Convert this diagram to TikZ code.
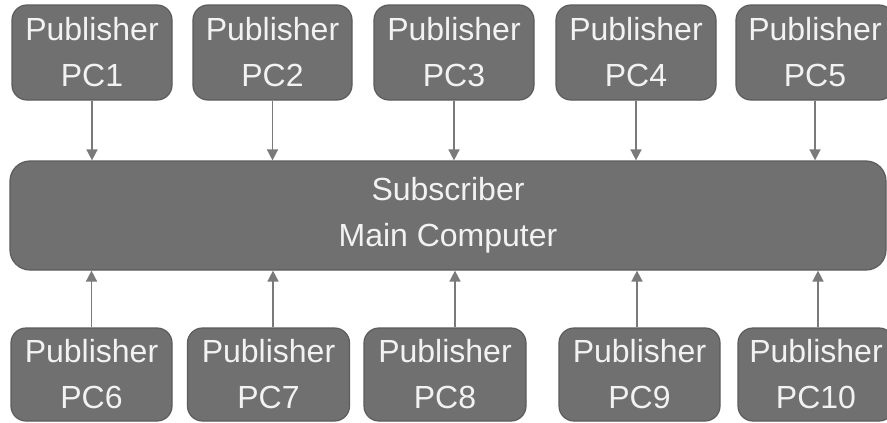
\documentclass[tikz,border=0pt]{standalone}
\usepackage{fontspec}
\setmainfont{Liberation Sans}
\usetikzlibrary{arrows.meta}
\definecolor{boxfill}{HTML}{707070}
\definecolor{boxline}{HTML}{5C5C5C}
\definecolor{arrowcol}{HTML}{7A7A7A}
\definecolor{txtcol}{HTML}{F2F2F2}
\begin{document}
\begin{tikzpicture}[x=1pt,y=-1pt,
  pcbox/.style={draw=boxline,line width=1.2pt,fill=boxfill,rounded corners=15pt,
    minimum width=160pt,minimum height=95pt,inner sep=0pt,align=center,
    text=txtcol,font=\fontsize{32}{46}\selectfont},
  mainbox/.style={pcbox,rounded corners=20pt,minimum width=876pt,minimum height=109pt},
  conn/.style={draw=arrowcol,line width=1.6pt,-{Triangle[length=11pt,width=11pt]}}]
\clip (0,0) rectangle (887,423);
\fill[white] (0,0) rectangle (887,423);
\node[mainbox] (main) at (448,215.5) {Subscriber\\Main Computer};
\node[pcbox] (p1) at (92,52.5) {Publisher\\PC1};
\node[pcbox,minimum width=159pt] (p2) at (272.5,52.5) {Publisher\\PC2};
\node[pcbox] (p3) at (454,52.5) {Publisher\\PC3};
\node[pcbox] (p4) at (636,52.5) {Publisher\\PC4};
\node[pcbox,minimum width=158pt] (p5) at (815,52.5) {Publisher\\PC5};
\node[pcbox,minimum width=161pt,minimum height=93pt] (p6) at (91.5,374.5) {Publisher\\PC6};
\node[pcbox,minimum width=162pt,minimum height=93pt] (p7) at (268.5,374.5) {Publisher\\PC7};
\node[pcbox,minimum width=162pt,minimum height=93pt] (p8) at (445,374.5) {Publisher\\PC8};
\node[pcbox,minimum width=161pt,minimum height=93pt] (p9) at (639.5,374.5) {Publisher\\PC9};
\node[pcbox,minimum width=156pt,minimum height=93pt] (p10) at (816,374.5) {Publisher\\PC10};
\foreach \n in {p1,p2,p3,p4,p5}
  \draw[conn] (\n.south) -- (\n.south |- main.north);
\draw[conn] (p6.north) -- (p6.north |- main.south);
\draw[conn] ([xshift=4.5pt]p7.north) -- ([xshift=4.5pt]p7.north |- main.south);
\draw[conn] ([xshift=10pt]p8.north) -- ([xshift=10pt]p8.north |- main.south);
\draw[conn] ([xshift=-2.5pt]p9.north) -- ([xshift=-2.5pt]p9.north |- main.south);
\draw[conn] ([xshift=2pt]p10.north) -- ([xshift=2pt]p10.north |- main.south);
\end{tikzpicture}
\end{document}
